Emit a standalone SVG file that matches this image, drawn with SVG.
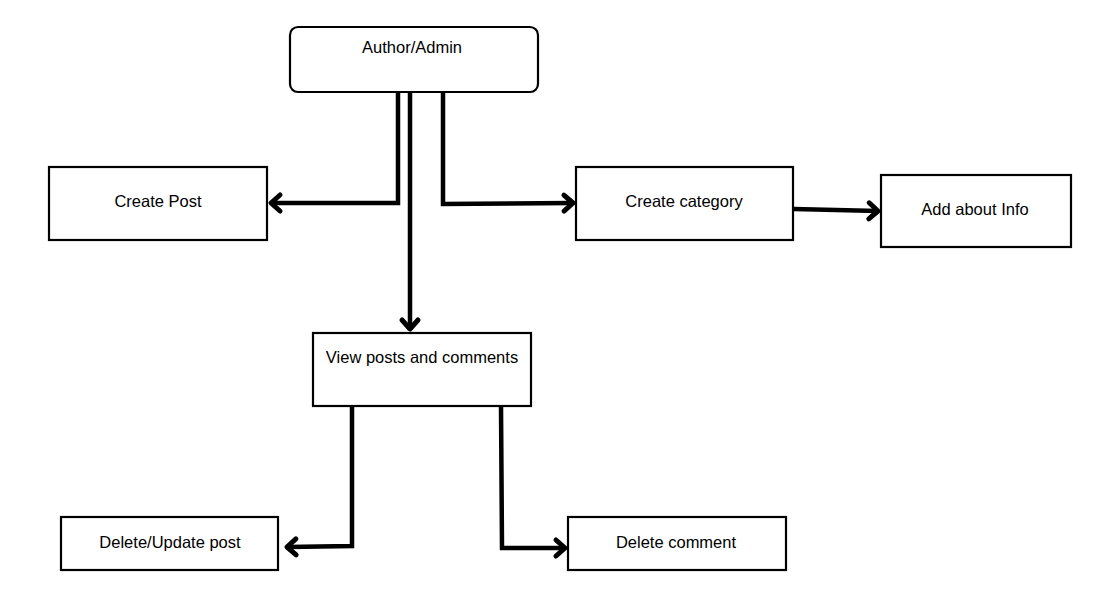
<svg xmlns="http://www.w3.org/2000/svg" width="1118" height="604" viewBox="0 0 1118 604">
<style>
.box{fill:#fff;stroke:#000;stroke-width:2.2}
.lbl{font-family:"Liberation Sans",Arial,sans-serif;font-size:16.5px;fill:#000;text-anchor:middle}
.con{fill:none;stroke:#000;stroke-width:4.5;stroke-linejoin:miter}
</style>
<defs>
<marker id="arr" viewBox="-14 -10 18 20" refX="0" refY="0" markerWidth="18" markerHeight="20" markerUnits="userSpaceOnUse" orient="auto" overflow="visible">
<path d="M-9,-8 L0,0 L-9,8" fill="none" stroke="#000" stroke-width="5" stroke-linecap="round" stroke-linejoin="round"/>
</marker>
</defs>
<rect width="1118" height="604" fill="#fff"/>
<g id="connectors">
<path class="con" d="M398,92 V203 H271" marker-end="url(#arr)"/>
<path class="con" d="M443,92 V204 L573,203" marker-end="url(#arr)"/>
<path class="con" d="M410,85 V329" marker-end="url(#arr)"/>
<path class="con" d="M794,209 L878,211" marker-end="url(#arr)"/>
<path class="con" d="M352,402 V546 L287,547" marker-end="url(#arr)"/>
<path class="con" d="M501,406 L502,548 H565" marker-end="url(#arr)"/>
</g>
<g id="author"><rect class="box" x="290" y="27" width="248" height="65" rx="8"/><text class="lbl" x="412" y="53">Author/Admin</text></g>
<g id="createPost"><rect class="box" x="49" y="167" width="218" height="73"/><text class="lbl" x="158" y="207">Create Post</text></g>
<g id="createCategory"><rect class="box" x="576" y="167" width="217" height="73"/><text class="lbl" x="684" y="207">Create category</text></g>
<g id="addAbout"><rect class="box" x="881" y="175" width="190" height="72"/><text class="lbl" x="975" y="215">Add about Info</text></g>
<g id="viewPosts"><rect class="box" x="313" y="333" width="218" height="73"/><text class="lbl" x="422" y="363">View posts and comments</text></g>
<g id="deleteUpdate"><rect class="box" x="61" y="517" width="217" height="53"/><text class="lbl" x="170" y="548">Delete/Update post</text></g>
<g id="deleteComment"><rect class="box" x="568" y="517" width="218" height="53"/><text class="lbl" x="676" y="548">Delete comment</text></g>
</svg>
